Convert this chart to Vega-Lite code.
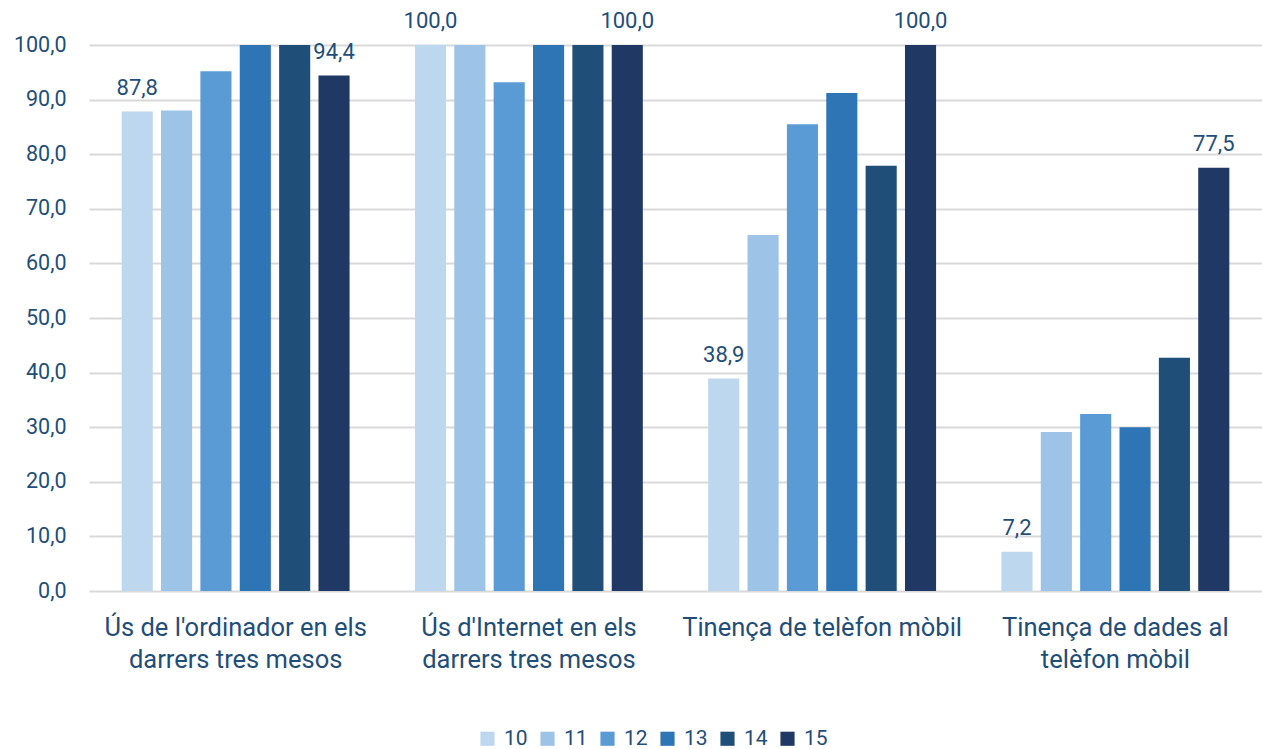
{
  "$schema": "https://vega.github.io/schema/vega-lite/v6.json",
  "width": 1173,
  "height": 546,
  "autosize": {"type": "none"},
  "padding": {"left": 89, "top": 45, "right": 0, "bottom": 158},
  "config": {
    "view": {"stroke": null},
    "font": "Roboto",
    "locale": {"number": {"decimal": ",", "thousands": ".", "grouping": [3], "currency": ["", " €"]}}
  },
  "data": {
    "values": [
      {"cat": "Ús de l'ordinador en els|darrers tres mesos", "serie": "10", "v": 87.8},
      {"cat": "Ús de l'ordinador en els|darrers tres mesos", "serie": "11", "v": 88.0},
      {"cat": "Ús de l'ordinador en els|darrers tres mesos", "serie": "12", "v": 95.2},
      {"cat": "Ús de l'ordinador en els|darrers tres mesos", "serie": "13", "v": 100.0},
      {"cat": "Ús de l'ordinador en els|darrers tres mesos", "serie": "14", "v": 100.0},
      {"cat": "Ús de l'ordinador en els|darrers tres mesos", "serie": "15", "v": 94.4},
      {"cat": "Ús d'Internet en els|darrers tres mesos", "serie": "10", "v": 100.0},
      {"cat": "Ús d'Internet en els|darrers tres mesos", "serie": "11", "v": 100.0},
      {"cat": "Ús d'Internet en els|darrers tres mesos", "serie": "12", "v": 93.2},
      {"cat": "Ús d'Internet en els|darrers tres mesos", "serie": "13", "v": 100.0},
      {"cat": "Ús d'Internet en els|darrers tres mesos", "serie": "14", "v": 100.0},
      {"cat": "Ús d'Internet en els|darrers tres mesos", "serie": "15", "v": 100.0},
      {"cat": "Tinença de telèfon mòbil", "serie": "10", "v": 38.9},
      {"cat": "Tinença de telèfon mòbil", "serie": "11", "v": 65.2},
      {"cat": "Tinença de telèfon mòbil", "serie": "12", "v": 85.5},
      {"cat": "Tinença de telèfon mòbil", "serie": "13", "v": 91.2},
      {"cat": "Tinença de telèfon mòbil", "serie": "14", "v": 77.9},
      {"cat": "Tinença de telèfon mòbil", "serie": "15", "v": 100.0},
      {"cat": "Tinença de dades al|telèfon mòbil", "serie": "10", "v": 7.2},
      {"cat": "Tinença de dades al|telèfon mòbil", "serie": "11", "v": 29.1},
      {"cat": "Tinença de dades al|telèfon mòbil", "serie": "12", "v": 32.4},
      {"cat": "Tinença de dades al|telèfon mòbil", "serie": "13", "v": 30.0},
      {"cat": "Tinença de dades al|telèfon mòbil", "serie": "14", "v": 42.7},
      {"cat": "Tinença de dades al|telèfon mòbil", "serie": "15", "v": 77.5}
    ]
  },
  "encoding": {
    "x": {
      "field": "cat",
      "type": "nominal",
      "sort": null,
      "title": null,
      "scale": {"paddingInner": 0, "paddingOuter": 0},
      "axis": {
        "domain": false,
        "ticks": false,
        "labelAngle": 0,
        "labelFontSize": 25.5,
        "labelColor": "#1F4E79",
        "labelPadding": 24,
        "labelLineHeight": 32,
        "labelLimit": 0,
        "labelExpr": "split(datum.label, '|')"
      }
    },
    "xOffset": {
      "field": "serie",
      "type": "nominal",
      "scale": {"paddingInner": 0.21, "paddingOuter": 0.83}
    },
    "y": {
      "field": "v",
      "type": "quantitative",
      "title": null,
      "scale": {"domain": [0, 100], "nice": false},
      "axis": {
        "values": [0, 10, 20, 30, 40, 50, 60, 70, 80, 90, 100],
        "format": ".1f",
        "domain": false,
        "ticks": false,
        "labelFontSize": 21.5,
        "labelColor": "#1F4E79",
        "labelPadding": 23,
        "gridColor": "#D9D9D9",
        "gridWidth": 2
      }
    }
  },
  "layer": [
    {
      "mark": {"type": "bar"},
      "encoding": {
        "color": {
          "field": "serie",
          "type": "nominal",
          "scale": {
            "domain": ["10", "11", "12", "13", "14", "15"],
            "range": ["#BDD7EE", "#9DC3E6", "#5B9BD5", "#2E75B6", "#1F4E79", "#203864"]
          },
          "legend": {
            "orient": "none",
            "legendX": 388,
            "legendY": 683,
            "direction": "horizontal",
            "title": null,
            "symbolType": "square",
            "symbolSize": 200,
            "symbolStrokeWidth": 0,
            "labelFontSize": 21,
            "labelColor": "#1F4E79",
            "labelOffset": 6,
            "columnPadding": 9
          }
        }
      }
    },
    {
      "transform": [{"filter": "datum.serie == '10' || datum.serie == '15'"}],
      "mark": {"type": "text", "baseline": "alphabetic", "dy": -17, "fontSize": 22, "color": "#1F4E79"},
      "encoding": {
        "text": {"field": "v", "type": "quantitative", "format": ".1f"}
      }
    }
  ]
}
